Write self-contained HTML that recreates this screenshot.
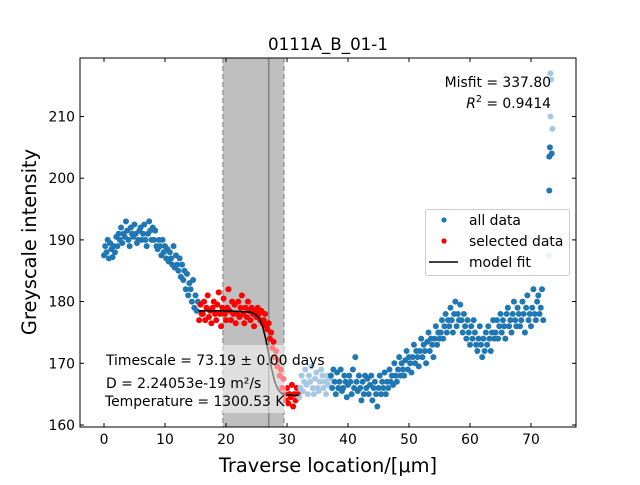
<!DOCTYPE html>
<html><head><meta charset="utf-8"><style>
body{margin:0;background:#fff}
svg{font-family:"DejaVu Sans","Liberation Sans",sans-serif}
</style></head><body>
<svg id="c" width="640" height="480" viewBox="0 0 640 480">
<rect width="640" height="480" fill="#fff"/>
</svg>
<script>
const segX0=[0,2.2,8.2,10.2,12.2,14.2,16.2,26.2,29.2,32.2,37.2,47.2,55.2,58.6,64.2];
const segY=[
[187.5,189,188,190,187,189.5,188.5,187.2,189,188,190.5],
[189,191,190,192,189.5,191,190.5,193,191.5,190,189,192,191,190.5,192.5,191,189.5,190,191.5,192,190,191,192.5,190,189,191,193,191.5,190,192],
[190,191.5,189,188.5,190,189,187.5,190,188,189],
[187,188.5,186.5,188,187,186,189,185.5,187.5,186],
[185,187,184,186,183.5,185,182,184.5,181,183],
[182,180,183.5,179,181,178.5,180,177,179.5,178],
[178,180,177,179,181,177.5,178.5,176.5,179,180,178,177,179.5,181.5,178,176,179,180.5,178,177,179,182,178.5,177,180,178,179.5,176.5,178,180,177.5,179,181,178,176.5,179,177.5,180,178.5,177,179,178,176,178.5,177.5,179,178,177,178.5,176.5],
[177,178,176,175.5,176.5,174,175,172.5,173.5,171,172,169.5,170.5,168,169],
[166,167.5,165,164,166,163.5,165,164.5,166.5,163,165,164,166,165,164.5],
[166,168,165.5,167,169,166.5,165,168,167,169.5,166,165,167.5,168.5,166,165.5,167,169,168,166,167,165,168,166.5,167.5],
[168,166,169,167,165,168.5,166,167,169,165.5,166,168,167,164.5,166.5,168,167,165,169,166,171,167,165.5,168,166,164,167,165,168,166,167.5,165,166.5,168,164,166,167,165,163,166,168,165,167,166,168.5,165,167,166,169,167],
[168,166.5,170,168,167,169,171,168,170,169,168,170.5,172,169,171,170,168.5,171,173,170,172,171,169.5,172,174,171,173,172,170,173.5,175,172,174,173,171,174,176,173,175,174],
[175,177,174,176,178,175,177,176,179,177,175,178,180,176,178,177,179.5],
[177,175,178,176,174,177,175,173,176,174,177,175,173,172,174,176,173,171,174,172,175,173,176,174,172,175,177,174],
[175,177,174,176,178,175,177,176,174,178,179,176,177,175,178,180,177,176,179,178,176,177,180,178,175,179,181,177,178,176,179,182,178,177,180,181,178,179,182,177]
];
const spikeX=[72.8,73,73,73.1,73.2,73.3,73.2,73.5,73.4,73.1,73];
const spikeY=[187.5,198,203.5,205,210,216,217,208,204,190,187.5];
const spikeFaded=[1,0,0,0,1,1,1,1,0,1,1];
const fitX=[15.5,20,24,25,25.5,26,26.5,27,27.5,28,28.5,29,29.5,30,31,32];
const fitY=[178.5,178.5,178.3,177.8,177.2,176,174,171.5,169,167,165.8,165.2,165,164.9,164.8,164.8];
const xTicks=[0,10,20,30,40,50,60,70];
const yTicks=[160,170,180,190,200,210];
const selRange=[15.5,32];
const fadedRange=[32,37.1];
const shade=[19.5,29.5];
const centerLine=27;

const L=80,R=576,T=58,B=427;
const X=v=>104+(v)*6.1;
const Y=v=>425-(v-160)*6.17;
const NS="http://www.w3.org/2000/svg";
const svg=document.getElementById('c');
function mk(t,a,p){const e=document.createElementNS(NS,t);for(const k in a)e.setAttribute(k,a[k]);(p||svg).appendChild(e);return e;}

let e=mk('rect',{x:X(shade[0]),y:T,width:X(shade[1])-X(shade[0]),height:B-T,fill:'#bfbfbf'});


e=mk('line',{x1:X(shade[0]),x2:X(shade[0]),y1:T,y2:B,stroke:'#999','stroke-width':1.5,'stroke-dasharray':'5,3'});


e=mk('line',{x1:X(shade[1]),x2:X(shade[1]),y1:T,y2:B,stroke:'#999','stroke-width':1.5,'stroke-dasharray':'5,3'});


e=mk('line',{x1:X(centerLine),x2:X(centerLine),y1:T,y2:B,stroke:'#808080','stroke-width':1.5});



const g=mk('g',{});


segX0.forEach((x0,s)=>{segY[s].forEach((y,i)=>{
  const x=x0+i*0.2;
  let col='#1f77b4';
  if(x>=selRange[0]&&x<selRange[1])col='#ff0000';
  else if(x>=fadedRange[0]&&x<fadedRange[1])col='#a6c8e2';
  const c=mk('circle',{cx:X(x),cy:Y(y),r:3,fill:col},g);
  
  
});});
spikeX.forEach((x,i)=>{
  const c=mk('circle',{cx:X(x),cy:Y(spikeY[i]),r:3,fill:spikeFaded[i]?'#a6c8e2':'#1f77b4'},g);
  
  
});
e=mk('polyline',{points:fitX.map((x,i)=>X(x)+','+Y(fitY[i])).join(' '),fill:'none',stroke:'#000','stroke-width':1.6});



e=mk('rect',{x:101,y:345,width:185,height:68,fill:'#fff','fill-opacity':0.5});


const info=[['Timescale = 73.19 ± 0.00 days',365],['D = 2.24053e-19 m²/s',388],['Temperature = 1300.53 K',406]];
info.forEach((p,i)=>{const t=mk('text',{x:i==2?105:106,y:p[1],'font-size':13.9,fill:'#000'});t.textContent=p[0];

});

e=mk('rect',{x:L,y:T,width:R-L,height:B-T,fill:'none',stroke:'#000','stroke-width':1});


xTicks.forEach(v=>{
  mk('line',{x1:X(v),x2:X(v),y1:B,y2:B-4,stroke:'#000'});
  mk('line',{x1:X(v),x2:X(v),y1:T,y2:T+4,stroke:'#000'});
  const t=mk('text',{x:X(v),y:B+17,'font-size':13.9,'text-anchor':'middle'});t.textContent=v;
  
  
});
yTicks.forEach(v=>{
  mk('line',{x1:L,x2:L+4,y1:Y(v),y2:Y(v),stroke:'#000'});
  mk('line',{x1:R,x2:R-4,y1:Y(v),y2:Y(v),stroke:'#000'});
  const t=mk('text',{x:L-5,y:Y(v)+5,'font-size':13.9,'text-anchor':'end'});t.textContent=v;
  
  
});
</script>
<svg style="position:absolute;left:0;top:0" width="640" height="480">
<text x="328" y="50" font-size="16.7" text-anchor="middle">0111A_B_01-1</text>
<text x="328" y="472" font-size="19.4" text-anchor="middle">Traverse location/[μm]</text>
<text transform="translate(36,242) rotate(-90)" font-size="19.4" text-anchor="middle">Greyscale intensity</text>
<text x="551" y="87" font-size="13.9" text-anchor="end">Misfit = 337.80</text>
<text x="551" y="108" font-size="13.9" text-anchor="end"><tspan font-style="italic">R</tspan><tspan font-size="9.5" dy="-6">2</tspan><tspan dy="6"> = 0.9414</tspan></text>
<g>
<rect x="425.5" y="209.5" width="144" height="66" rx="2" fill="#fff" fill-opacity="0.8" stroke="#ccc"/>
<circle cx="444" cy="220" r="2.6" fill="#1f77b4"/>
<text x="469" y="225" font-size="13.9">all data</text>
<circle cx="444" cy="241" r="2.6" fill="#ff0000"/>
<text x="469" y="246" font-size="13.9">selected data</text>
<line x1="429" x2="458" y1="262" y2="262" stroke="#000" stroke-width="1.6"/>
<text x="469" y="267" font-size="13.9">model fit</text>
</g>
</svg>
</body></html>
